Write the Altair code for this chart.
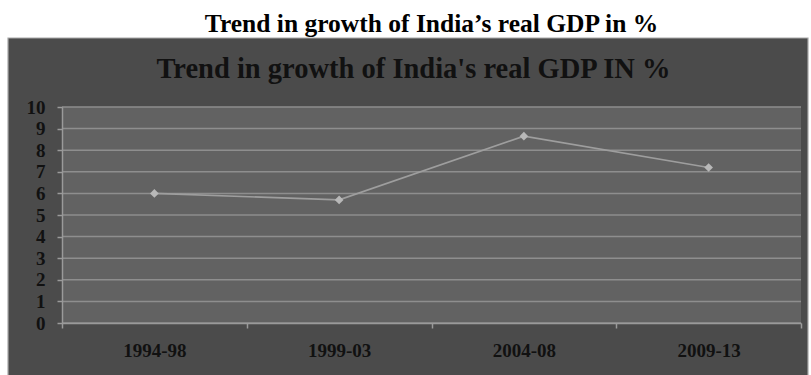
import altair as alt
import pandas as pd

periods = ["1994-98", "1999-03", "2004-08", "2009-13"]
growth = [6.0, 5.7, 8.65, 7.2]
y_ticks = [0, 1, 2, 3, 4, 5, 6, 7, 8, 9, 10]
outer_title = "Trend in growth of India’s real GDP in %"
inner_title = "Trend in growth of India's real GDP IN %"

W, H = 739, 216
SERIF = "Liberation Serif"

df = pd.DataFrame({"period": periods, "growth": growth})
grid_df = pd.DataFrame({"growth": y_ticks})
one = pd.DataFrame({"a": [0]})

yscale = alt.Scale(domain=[0, 10], nice=False, zero=True)
xscale = alt.Scale(type="band", paddingInner=0, paddingOuter=0, domain=periods)

y_axis = alt.Axis(
    title=None,
    values=y_ticks,
    labelFont=SERIF,
    labelFontSize=19,
    labelFontWeight="bold",
    labelColor="#111111",
    labelPadding=12,
    tickSize=5,
    tickColor="#9a9a9a",
    tickWidth=1.5,
    domainColor="#9a9a9a",
    domainWidth=1.5,
    grid=False,
    zindex=1,
)

panel = alt.Chart(one).mark_rect(
    fill="#4b4b4b", stroke="#a8a8a8", strokeWidth=1.2
).encode(x=alt.value(-54), x2=alt.value(746), y=alt.value(-69), y2=alt.value(280))

plotbg = alt.Chart(one).mark_rect(fill="#626262").encode(
    x=alt.value(0), x2=alt.value(W), y=alt.value(0), y2=alt.value(H)
)

t_outer = alt.Chart(one).mark_text(
    text=outer_title, font=SERIF, fontSize=25.5, fontWeight="bold",
    color="#000000", align="center", baseline="alphabetic"
).encode(x=alt.value(W / 2 + 0), y=alt.value(-75))

t_inner = alt.Chart(one).mark_text(
    text=inner_title, font=SERIF, fontSize=28.5, fontWeight="bold",
    color="#111111", align="center", baseline="alphabetic"
).encode(x=alt.value(W / 2 - 18), y=alt.value(-29))

grid = alt.Chart(grid_df).mark_rule(color="#8e8e8e", strokeWidth=1.5).encode(
    y=alt.Y("growth:Q", scale=yscale, axis=y_axis)
)

x_enc = alt.X(
    "period:N",
    scale=xscale,
    sort=periods,
    bandPosition=0.5,
    axis=alt.Axis(
        title=None,
        tickBand="extent",
        labelAngle=0,
        labelFont=SERIF,
        labelFontSize=19,
        labelFontWeight="bold",
        labelColor="#111111",
        labelPadding=13,
        tickSize=5,
        tickColor="#9a9a9a",
        tickWidth=1.5,
        domainColor="#9a9a9a",
        domainWidth=1.5,
        grid=False,
        zindex=1,
    ),
)
y_enc = alt.Y("growth:Q", scale=yscale, axis=y_axis)

line = alt.Chart(df).mark_line(color="#9e9e9e", strokeWidth=1.6).encode(x=x_enc, y=y_enc)
pts = alt.Chart(df).mark_point(
    shape="diamond", filled=True, color="#b8b8b8", size=75, opacity=1
).encode(x=x_enc, y=y_enc)

chart = alt.layer(panel, plotbg, t_outer, t_inner, grid, line, pts).properties(
    width=W,
    height=H,
    background="white",
    autosize=alt.AutoSizeParams(type="none"),
    padding={"left": 62, "top": 107, "right": 10, "bottom": 52},
).configure_view(stroke=None)

chart.save("out.html", embed_options={"renderer": "svg", "actions": False})
